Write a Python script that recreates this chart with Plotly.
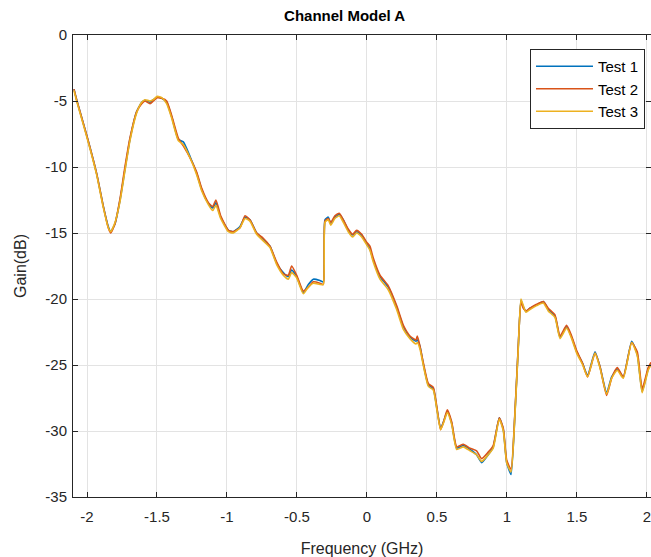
import plotly.graph_objects as go

# Frequency (GHz)
freq = [-2.093, -2.074, -2.026, -1.979, -1.931, -1.883, -1.848, -1.831, -1.800, -1.764,
        -1.729, -1.693, -1.645, -1.609, -1.586, -1.550, -1.526, -1.498, -1.466, -1.431,
        -1.395, -1.348, -1.312, -1.264, -1.216, -1.181, -1.133, -1.102, -1.079, -1.045,
        -0.990, -0.955, -0.907, -0.871, -0.836, -0.788, -0.741, -0.693, -0.645, -0.598,
        -0.562, -0.538, -0.502, -0.455, -0.419, -0.383, -0.336, -0.312, -0.300, -0.276,
        -0.259, -0.229, -0.198, -0.169, -0.134, -0.102, -0.074, -0.038, -0.002, 0.021,
        0.045, 0.093, 0.152, 0.212, 0.260, 0.307, 0.350, 0.360, 0.379, 0.402,
        0.438, 0.474, 0.498, 0.526, 0.550, 0.574, 0.605, 0.641, 0.688, 0.736,
        0.783, 0.819, 0.866, 0.902, 0.945, 0.974, 0.998, 1.029, 1.057, 1.081,
        1.100, 1.117, 1.136, 1.164, 1.212, 1.260, 1.295, 1.343, 1.379, 1.426,
        1.462, 1.498, 1.541, 1.576, 1.629, 1.664, 1.712, 1.748, 1.788, 1.831,
        1.891, 1.931, 1.966, 2.009, 2.029]

# Gain (dB)
test1 = [-4.1, -4.9, -6.7, -8.5, -10.5, -13.0, -14.5, -14.9, -14.3, -12.5,
         -10.2, -7.9, -5.8, -5.1, -4.95, -5.1, -4.9, -4.7, -4.8, -5.1,
         -6.2, -7.9, -8.1, -9.2, -10.5, -11.7, -12.75, -13.1, -12.7, -13.8,
         -14.8, -14.9, -14.5, -13.8, -14.0, -15.0, -15.5, -16.0, -17.3, -18.0,
         -18.3, -17.8, -18.3, -19.5, -18.9, -18.5, -18.6, -18.7, -14.0, -13.8,
         -14.3, -13.8, -13.6, -14.0, -14.8, -15.15, -14.9, -15.15, -15.8, -16.2,
         -17.05, -18.3, -19.1, -20.6, -22.1, -22.9, -23.2, -23.1, -23.6, -24.9,
         -26.5, -26.8, -28.2, -29.8, -29.2, -28.5, -29.4, -31.3, -31.1, -31.4,
         -31.8, -32.4, -31.8, -31.2, -29.0, -29.9, -32.4, -33.3, -28.7, -23.6,
         -20.1, -20.6, -20.95, -20.7, -20.45, -20.2, -20.8, -21.3, -22.9, -22.1,
         -22.9, -24.0, -24.9, -25.8, -24.0, -25.1, -27.1, -25.9, -25.3, -25.9,
         -23.2, -24.2, -27.0, -25.3, -24.9]

test2 = [-4.1, -4.9, -6.7, -8.5, -10.5, -13.0, -14.6, -15.0, -14.3, -12.4,
         -10.0, -7.8, -5.8, -5.2, -5.0, -5.2, -5.0, -4.75, -4.8, -5.0,
         -6.1, -7.8, -8.4, -9.3, -10.4, -11.6, -12.7, -13.0, -12.5, -13.7,
         -14.8, -14.9, -14.6, -13.7, -14.0, -15.0, -15.4, -16.0, -17.2, -18.1,
         -18.2, -17.5, -18.2, -19.4, -19.1, -18.7, -18.8, -18.9, -14.1, -13.9,
         -14.2, -13.7, -13.5, -14.0, -14.7, -15.1, -14.8, -15.1, -15.7, -16.0,
         -16.9, -18.2, -19.0, -20.5, -22.0, -22.8, -23.1, -22.8, -23.6, -24.8,
         -26.4, -26.7, -28.1, -29.9, -29.2, -28.4, -29.3, -31.2, -31.0, -31.3,
         -31.5, -32.1, -31.6, -31.1, -29.0, -29.8, -32.2, -32.9, -28.6, -23.5,
         -20.2, -20.7, -20.9, -20.7, -20.4, -20.2, -20.7, -21.2, -22.8, -22.0,
         -22.8, -23.9, -24.9, -25.9, -24.1, -25.1, -27.3, -26.0, -25.2, -25.9,
         -23.3, -24.0, -26.8, -25.2, -24.8]

test3 = [-4.2, -5.0, -6.8, -8.6, -10.6, -13.1, -14.6, -14.9, -14.2, -12.6,
         -10.3, -8.0, -5.9, -5.1, -4.9, -5.0, -4.9, -4.65, -4.75, -5.2,
         -6.3, -8.0, -8.3, -9.3, -10.6, -11.8, -12.85, -13.3, -12.9, -13.9,
         -14.9, -15.0, -14.6, -13.9, -14.1, -15.1, -15.6, -16.1, -17.4, -18.2,
         -18.5, -18.0, -18.4, -19.6, -19.1, -18.8, -18.9, -18.9, -14.2, -14.0,
         -14.4, -13.9, -13.7, -14.2, -14.9, -15.3, -15.0, -15.3, -15.9, -16.3,
         -17.2, -18.5, -19.3, -20.8, -22.3, -23.0, -23.4, -23.3, -23.8, -25.0,
         -26.6, -26.9, -28.3, -29.9, -29.3, -28.6, -29.5, -31.4, -31.2, -31.5,
         -31.8, -32.3, -31.8, -31.3, -29.1, -30.0, -32.4, -33.1, -28.8, -23.7,
         -20.0, -20.5, -21.0, -20.8, -20.5, -20.3, -20.9, -21.4, -23.0, -22.2,
         -23.0, -24.1, -25.0, -25.9, -24.1, -25.2, -27.2, -26.0, -25.4, -26.0,
         -23.3, -24.3, -27.1, -25.4, -25.0]

names = ["Test 1", "Test 2", "Test 3"]
series = [test1, test2, test3]
colors = ["#0072BD", "#D95319", "#EDB120"]

x_ticks = [-2, -1.5, -1, -0.5, 0, 0.5, 1, 1.5, 2]
x_tick_text = ["-2", "-1.5", "-1", "-0.5", "0", "0.5", "1", "1.5", "2"]
y_ticks = [-35, -30, -25, -20, -15, -10, -5, 0]
y_tick_text = ["-35", "-30", "-25", "-20", "-15", "-10", "-5", "0"]

FONT = "Liberation Sans, Arial, Helvetica, sans-serif"

fig = go.Figure()
for name, ys, c in zip(names, series, colors):
    fig.add_trace(go.Scatter(
        x=freq, y=ys, mode="lines", name=name,
        line=dict(color=c, width=1.6, shape="spline", smoothing=0.5),
    ))

axis_common = dict(
    showline=True, linecolor="#262626", linewidth=1, mirror="ticks",
    ticks="inside", ticklen=5, tickcolor="#262626", tickwidth=1,
    showgrid=True, gridcolor="#e3e3e3", gridwidth=1,
    zeroline=False, automargin=False, ticklabeloverflow="allow",
    tickfont=dict(family=FONT, size=15, color="#262626"),
)

fig.update_layout(
    width=651, height=557,
    margin=dict(l=73, r=0, t=35, b=60, autoexpand=False),
    paper_bgcolor="white", plot_bgcolor="white",
    font=dict(family=FONT, color="#262626"),
    title=dict(text="<b>Channel Model A</b>", x=0.47, xref="paper", xanchor="center",
               y=1, yref="container", yanchor="top", pad=dict(t=10),
               font=dict(family=FONT, size=15, color="#000000")),
    xaxis=dict(range=[-2.1, 2.029], tickvals=x_ticks, ticktext=x_tick_text,
               ticklabelstandoff=6,
               title=dict(text="Frequency (GHz)", standoff=19,
                          font=dict(family=FONT, size=16, color="#262626")),
               **axis_common),
    yaxis=dict(range=[-35, 0], tickvals=y_ticks, ticktext=y_tick_text,
               ticklabelstandoff=2,
               title=dict(text="Gain(dB)", standoff=14,
                          font=dict(family=FONT, size=16, color="#262626")),
               **axis_common),
    legend=dict(x=0.9896, y=0.9697, xanchor="right", yanchor="top",
                bgcolor="white", bordercolor="#262626", borderwidth=1,
                font=dict(family=FONT, size=15, color="#000000"),
                tracegroupgap=0, itemwidth=57),
    showlegend=True,
)

fig.write_html("out.html", config={"displayModeBar": False},
               post_script="document.body.style.margin='0px';document.body.style.overflow='hidden';")
